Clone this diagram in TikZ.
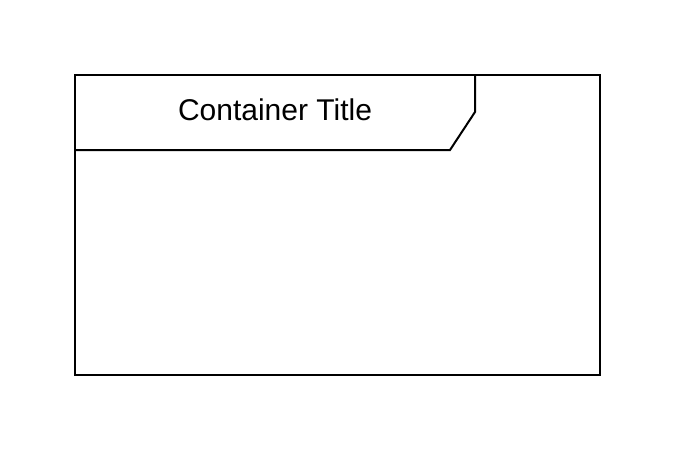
\documentclass[tikz,border=0pt]{standalone}
\usepackage{fontspec}
\setmainfont{Liberation Sans}

\begin{document}
\begin{tikzpicture}[x=1pt,y=-1pt,line width=2pt]
   \useasboundingbox (0,0) rectangle (677,452);
   \tikzstyle{title}=[anchor=base, font=\fontsize{30}{36}\selectfont, inner sep=0pt]
   \coordinate (topleft) at (75,75);
   \coordinate (botright) at (600,375);
   \draw (topleft) rectangle (botright);
   \coordinate (tabtop) at (475,75);
   \coordinate (tabcorner) at (475,112);
   \coordinate (tabfoot) at (450,150);
   \coordinate (tableft) at (75,150);
   \draw[line join=miter] (tabtop) -- (tabcorner) -- (tabfoot) -- (tableft);
   \node[title] (heading) at (275,120.5) {Container Title};
\end{tikzpicture}
\end{document}
